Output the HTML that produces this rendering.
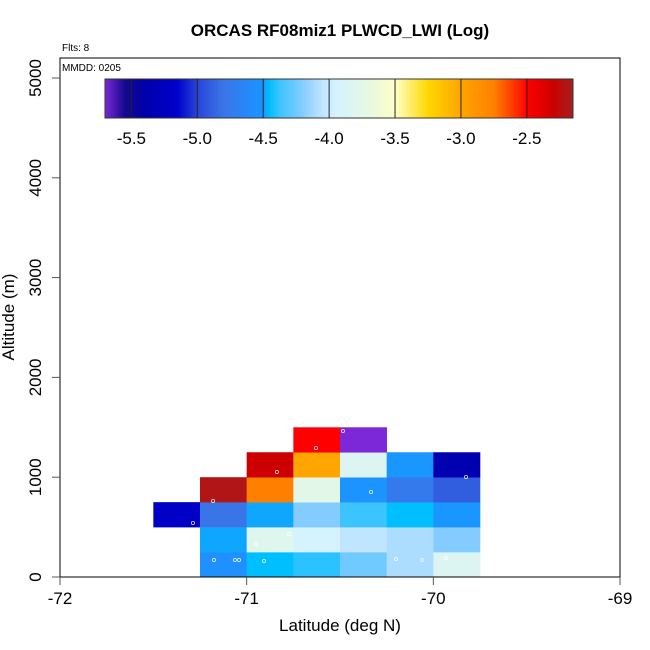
<!DOCTYPE html>
<html><head><meta charset="utf-8"><style>
body{margin:0;background:#fff}
svg{display:block;font-family:"Liberation Sans",Arial,sans-serif}
</style></head><body>
<svg id="c" width="650" height="650" viewBox="0 0 650 650">
<rect width="650" height="650" fill="#fff"/>
<text x="340" y="36" text-anchor="middle" font-size="17" font-weight="bold">ORCAS RF08miz1 PLWCD_LWI (Log)</text>
<text x="62" y="51" font-size="10">Flts: 8</text>
<g id="cells"></g>
<g id="pts"></g>
<rect x="60" y="58" width="560" height="519" fill="none" stroke="#000" stroke-width="1"/>
<text x="62" y="71" font-size="10">MMDD: 0205</text>
<g id="cbar"></g>
<g id="xax"></g>
<g id="yax"></g>
<text x="340" y="631" text-anchor="middle" font-size="17">Latitude (deg N)</text>
<text transform="translate(14,317) rotate(-90)" text-anchor="middle" font-size="17">Altitude (m)</text>
</svg>
<script>
const latBins=[-71.5,-71.25,-71,-70.75,-70.5,-70.25,-70];
const altBins=[0,250,500,750,1000,1250];
// log values per [altRow][latCol]; null = empty
const cellValues=[
 [null,-4.55,-4.45,-4.4,-4.25,-4.1,-3.85],
 [null,-4.48,-3.8,-3.95,-4.05,-4.1,-4.2],
 [-5.2,-4.8,-4.48,-4.2,-4.38,-4.45,-4.5],
 [null,-2.2,-2.75,-3.75,-4.52,-4.75,-4.9],
 [null,null,-2.3,-3.0,-3.85,-4.5,-5.35],
 [null,null,null,-2.5,-5.7,null,null]
];
const pointLat=[-70.484,-70.629,-70.838,-69.825,-71.18,-70.334,-71.288,-70.773,-70.95,-71.175,-71.063,-71.041,-70.907,-70.2,-70.061,-69.932];
const pointAlt=[1463,1293,1052,1002,762,852,541,431,331,170,170,170,160,180,170,190];
const xTicks=[-72,-71,-70,-69];
const yTicks=[0,1000,2000,3000,4000,5000];
const cbTicks=[-5.5,-5.0,-4.5,-4.0,-3.5,-3.0,-2.5];
const cbMin=-5.7,cbMax=-2.15;
const X=v=>60+(v+72)*186.67;
const Y=v=>577-v*0.0998;
const stops=[[-5.72,[138,43,226]],[-5.55,[20,10,140]],[-5.4,[0,0,170]],[-5.15,[0,0,205]],[-5.0,[40,70,215]],[-4.8,[58,117,232]],[-4.55,[30,144,255]],[-4.5,[25,150,255]],[-4.45,[0,191,255]],[-4.38,[60,196,255]],[-4.2,[132,204,255]],[-4.05,[192,230,255]],[-3.95,[212,242,255]],[-3.82,[222,246,240]],[-3.72,[228,248,228]],[-3.5,[255,255,200]],[-3.4,[255,240,120]],[-3.25,[255,215,0]],[-3.0,[255,165,0]],[-2.75,[255,128,0]],[-2.55,[255,30,0]],[-2.5,[255,0,0]],[-2.3,[204,0,0]],[-2.15,[165,32,32]]];
function col(v){
 if(v<=stops[0][0])return 'rgb('+stops[0][1]+')';
 for(let i=1;i<stops.length;i++){if(v<=stops[i][0]){const a=stops[i-1],b=stops[i];const t=(v-a[0])/(b[0]-a[0]);return 'rgb('+a[1].map((c,k)=>Math.round(c+(b[1][k]-c)*t)).join(',')+')';}}
 return 'rgb('+stops[stops.length-1][1]+')';
}
const NS='http://www.w3.org/2000/svg';
function mk(p,t,a){const e=document.createElementNS(NS,t);for(const k in a)e.setAttribute(k,a[k]);p.appendChild(e);return e;}
const cells=document.getElementById('cells');
cellValues.forEach((row,r)=>row.forEach((v,c)=>{if(v===null)return;
 const x0=X(latBins[c]),x1=X(latBins[c]+0.25),y0=Y(altBins[r]+250),y1=Y(altBins[r]);
 const e=mk(cells,'rect',{x:x0,y:y0,width:x1-x0+0.3,height:y1-y0+0.3,fill:col(v)});
 
 
}));
const pts=document.getElementById('pts');
pointLat.forEach((la,i)=>{const e=mk(pts,'circle',{cx:X(la),cy:Y(pointAlt[i]),r:1.6,fill:'none',stroke:'#fff','stroke-width':0.8,opacity:0.85});
 
 
});
const cb=document.getElementById('cbar');
const CX=v=>105+(v-cbMin)/(cbMax-cbMin)*468;
for(let i=0;i<234;i++){const v=cbMin+(i+0.5)/234*(cbMax-cbMin);const e=mk(cb,'rect',{x:105+i*2,y:79,width:2.3,height:39,fill:col(v)});
 
 }
mk(cb,'rect',{x:105,y:79,width:468,height:39,fill:'none',stroke:'#333','stroke-width':1});
cbTicks.forEach(t=>{const x=CX(t);mk(cb,'line',{x1:x,x2:x,y1:79,y2:118,stroke:'#222','stroke-width':1});
 const e=mk(cb,'text',{x:x,y:144,'text-anchor':'middle','font-size':17});e.textContent=t.toFixed(1);
 
 });
const xa=document.getElementById('xax');
xTicks.forEach(t=>{const x=X(t);mk(xa,'line',{x1:x,x2:x,y1:577,y2:585,stroke:'#555','stroke-width':1});
 const e=mk(xa,'text',{x:x,y:604,'text-anchor':'middle','font-size':17});e.textContent=t;
 
 });
const ya=document.getElementById('yax');
yTicks.forEach(t=>{const y=Y(t);mk(ya,'line',{x1:52,x2:60,y1:y,y2:y,stroke:'#555','stroke-width':1});
 const e=mk(ya,'text',{transform:'translate(41,'+y+') rotate(-90)','text-anchor':'middle','font-size':17});e.textContent=t;
 
 });
</script>
</body></html>
